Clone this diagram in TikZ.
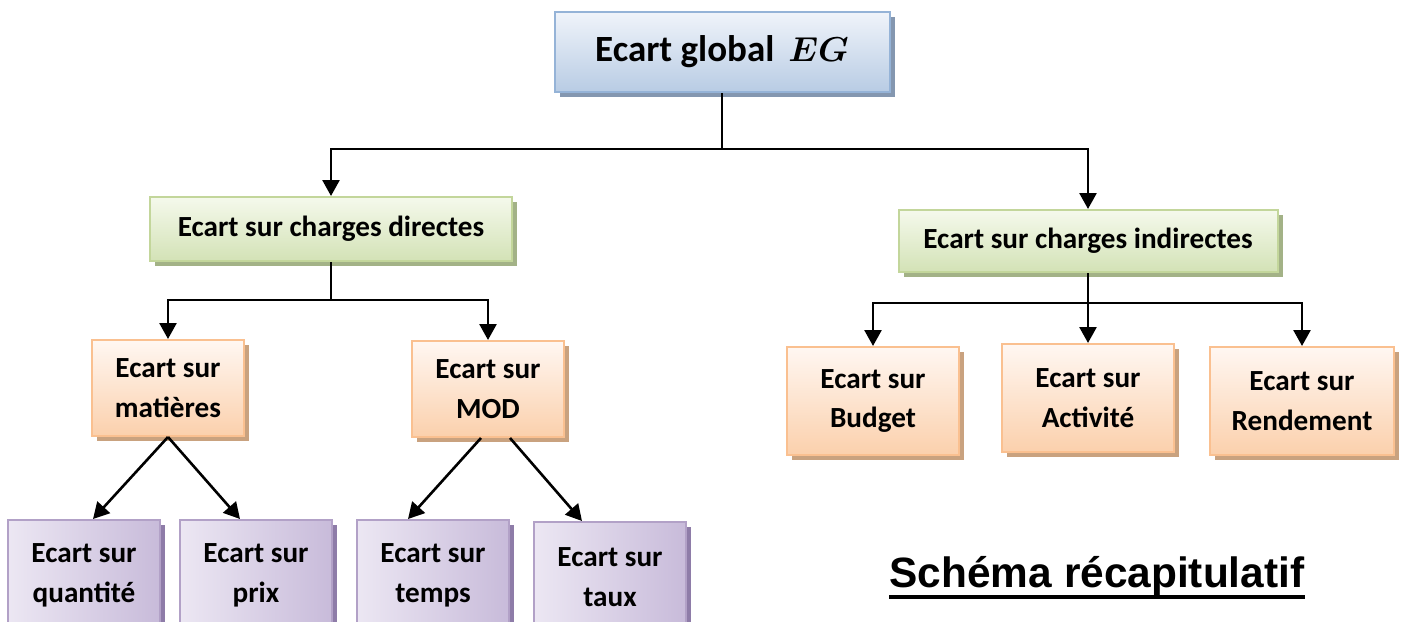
\documentclass[tikz,border=0pt]{standalone}
\usepackage{fontspec}
\setmainfont{Carlito}
\newfontfamily\titlefont{Liberation Sans}
\usetikzlibrary{arrows.meta, shadows}

\definecolor{bleuT}{HTML}{F0F4FA}
\definecolor{bleuB}{HTML}{B8CCE4}
\definecolor{bleuD}{HTML}{95B3D7}
\definecolor{bleuO}{HTML}{8497B0}
\definecolor{vertT}{HTML}{F5F9EC}
\definecolor{vertB}{HTML}{D3E2B6}
\definecolor{vertD}{HTML}{C3D69B}
\definecolor{vertO}{HTML}{A3B287}
\definecolor{orT}{HTML}{FFF7F2}
\definecolor{orB}{HTML}{FBD0AC}
\definecolor{orD}{HTML}{FAC090}
\definecolor{orO}{HTML}{C9A27F}
\definecolor{viC}{HTML}{ECE7F3}
\definecolor{viF}{HTML}{C8BBDA}
\definecolor{viD}{HTML}{B2A1C7}
\definecolor{viO}{HTML}{8E7CA8}

\begin{document}
\begin{tikzpicture}[x=0.5pt, y=-0.5pt,
    boite/.style={draw, line width=1pt, align=center, inner sep=0pt,
      font=\fontsize{14.6}{20}\selectfont\bfseries},
    globale/.style={boite, draw=bleuD, top color=bleuT, bottom color=bleuB,
      general shadow={fill=bleuO, shadow xshift=2.5pt, shadow yshift=-2.5pt},
      minimum width=167.5pt, minimum height=40pt, font=\fontsize{18.5}{20}\selectfont\bfseries},
    charge/.style={boite, draw=vertD, top color=vertT, bottom color=vertB,
      general shadow={fill=vertO, shadow xshift=2.5pt, shadow yshift=-2.5pt},
      minimum height=32pt},
    ecart/.style={boite, draw=orD, top color=orT, bottom color=orB,
      general shadow={fill=orO, shadow xshift=2.5pt, shadow yshift=-2.5pt},
      minimum width=76pt, minimum height=48pt},
    sousecart/.style={boite, draw=viD, left color=viC, right color=viF,
      general shadow={fill=viO, shadow xshift=2.5pt, shadow yshift=-2.5pt},
      minimum width=76pt, minimum height=55pt},
    trait/.style={line width=1.3pt},
    fleche/.style={trait, -{Triangle[length=8pt,width=8.5pt]}}]
  %tikz  Ecarts, schema recapitulatif
  \useasboundingbox (0,0) rectangle (1402,621);
  \node[globale] (eg) at (722,52) {Ecart global\hspace{7pt}{\boldmath$EG$}};
  \node[charge, minimum width=181pt] (csd) at (331,229) {Ecart sur charges directes};
  \node[charge, minimum width=189.5pt, minimum height=31pt] (csi) at (1088,241) {Ecart sur charges indirectes};
  \node[ecart] (mat) at (168,388) {Ecart sur\\matières};
  \node[ecart] (mod) at (488,389) {Ecart sur\\MOD};
  \node[ecart, minimum width=86pt, minimum height=54pt] (bud) at (873,401) {Ecart sur\\Budget};
  \node[ecart, minimum width=86pt, minimum height=54pt] (act) at (1088,398) {Ecart sur\\Activité};
  \node[ecart, minimum width=92pt, minimum height=54pt] (ren) at (1302,401) {Ecart sur\\Rendement};
  \node[sousecart] (qte) at (84,575) {Ecart sur\\quantité};
  \node[sousecart] (prix) at (256,575) {Ecart sur\\prix};
  \node[sousecart] (tps) at (433,575) {Ecart sur\\temps};
  \node[sousecart] (taux) at (610,577) {Ecart sur\\taux};
  \node[inner sep=0pt, font=\titlefont\fontsize{21.2}{24}\selectfont\bfseries] (titre) at (1097,576) {Schéma récapitulatif};
  \draw[line width=2pt] ([yshift=-5pt]titre.base west) -- ([yshift=-5pt]titre.base east);
  \draw[trait] (eg.south) -- ++(0,56) coordinate (j0);
  \draw[fleche] (j0) -| (csd.north);
  \draw[fleche] (j0) -| (csi.north);
  \draw[trait] (csd.south) -- ++(0,38) coordinate (j1);
  \draw[fleche] (j1) -| (mat.north);
  \draw[fleche] (j1) -| (mod.north);
  \draw[trait] (csi.south) -- ++(0,30) coordinate (j2);
  \draw[fleche] (csi.south) -- (act.north);
  \draw[fleche] (j2) -| (bud.north);
  \draw[fleche] (j2) -| (ren.north);
  \draw[fleche] (mat.south) -- ([xshift=4.5pt]qte.north);
  \draw[fleche] (mat.south) -- ([xshift=-8pt]prix.north);
  \draw[fleche] ([xshift=-3.5pt]mod.south) -- ([xshift=-12.5pt]tps.north);
  \draw[fleche] ([xshift=11pt]mod.south) -- ([xshift=-14pt]taux.north);
\end{tikzpicture}
\end{document}
